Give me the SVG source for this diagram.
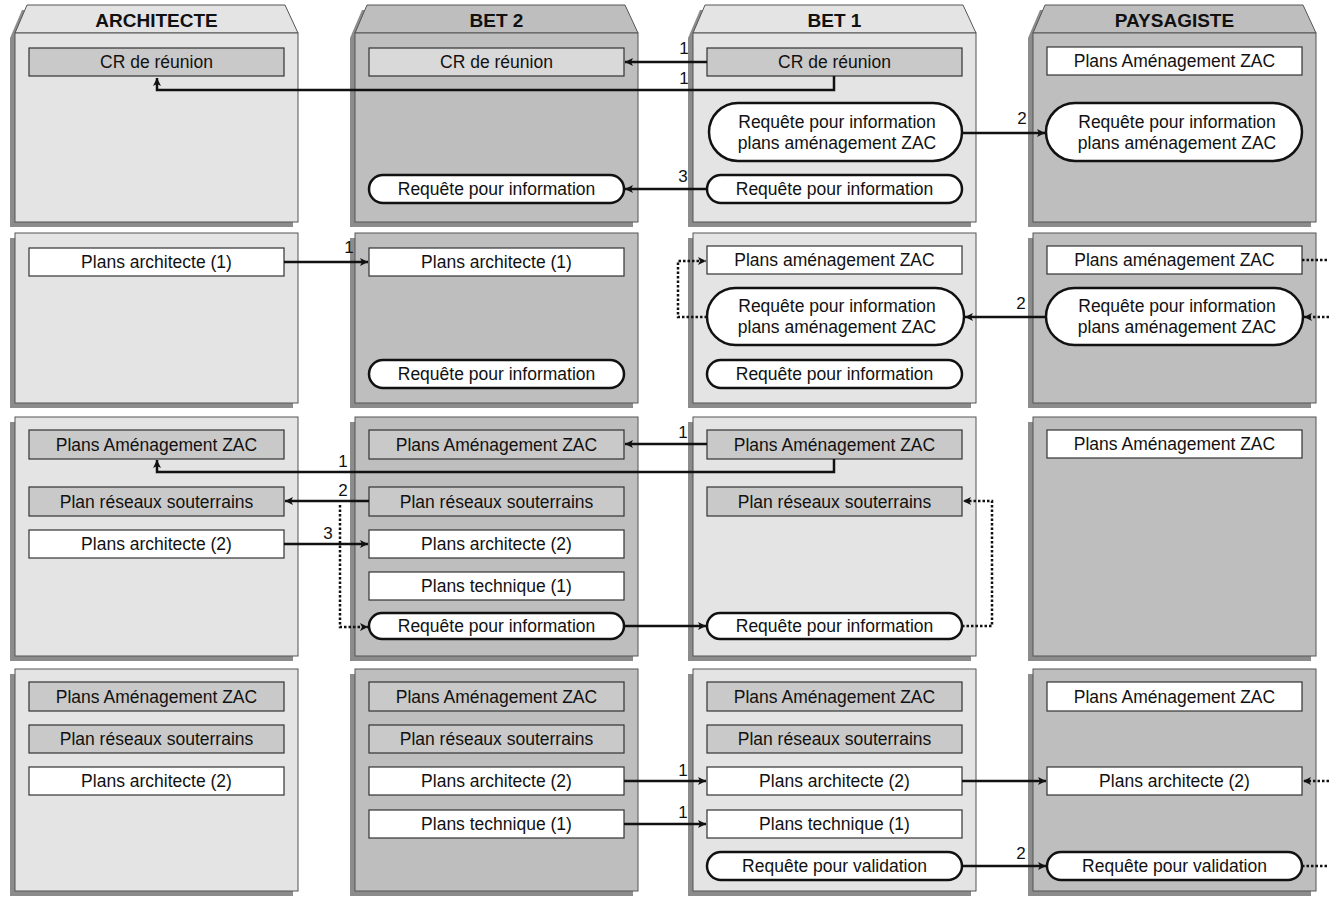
<svg xmlns="http://www.w3.org/2000/svg" width="1329" height="898" viewBox="0 0 1329 898">
<defs>
<style>
.bg{fill:#ffffff}
.sh{fill:#8c8c8c}
.pl{fill:#e4e4e4;stroke:#555;stroke-width:1}
.pd{fill:#bebebe;stroke:#555;stroke-width:1}
.bw{fill:#ffffff;stroke:#333;stroke-width:1.2}
.bg2{fill:#c9c9c9;stroke:#333;stroke-width:1.2}
.bl{fill:#d9d9d9;stroke:#333;stroke-width:1.2}
.st{fill:#ffffff;stroke:#111;stroke-width:2.5}
.t{font-family:"Liberation Sans",Arial,sans-serif;font-size:17.5px;fill:#111;text-anchor:middle}
.h{font-family:"Liberation Sans",Arial,sans-serif;font-size:19px;font-weight:bold;fill:#111;text-anchor:middle}
.n{font-family:"Liberation Sans",Arial,sans-serif;font-size:17px;fill:#111;text-anchor:middle}
.c{fill:none;stroke:#111;stroke-width:2.5}
.d{fill:none;stroke:#111;stroke-width:2.5;stroke-dasharray:2.5 2}
</style>
<marker id="a" viewBox="0 0 10 10" refX="10" refY="5" markerWidth="9" markerHeight="8" markerUnits="userSpaceOnUse" orient="auto">
<path d="M0,0 L10,5 L0,10 L2.5,5 z" fill="#111"/>
</marker>
</defs>
<rect class="bg" x="0" y="0" width="1329" height="898"/>

<!-- Row 1 -->
<g id="col-architecte">
<polygon class="sh" points="22,10 280,10 293,38 10,38"/>
<polygon class="pl" points="27,5 285,5 298,33 15,33"/>
<text class="h" x="156.5" y="27">ARCHITECTE</text>
<rect class="sh" x="10" y="38" width="283" height="189"/>
<rect class="pl" x="15" y="33" width="283" height="189"/>
<rect class="bg2" x="29" y="48" width="255" height="28"/>
<text class="t" x="156.5" y="68">CR de réunion</text>
</g>
<g id="col-bet2">
<polygon class="sh" points="362,10 620,10 633,38 350,38"/>
<polygon class="pd" points="367,5 625,5 638,33 355,33"/>
<text class="h" x="496.5" y="27">BET 2</text>
<rect class="sh" x="350" y="38" width="283" height="189"/>
<rect class="pd" x="355" y="33" width="283" height="189"/>
<rect class="bl" x="369" y="48" width="255" height="28"/>
<text class="t" x="496.5" y="68">CR de réunion</text>
<rect class="st" x="369" y="175" width="255" height="28" rx="14"/>
<text class="t" x="496.5" y="195">Requête pour information</text>
</g>
<g id="col-bet1">
<polygon class="sh" points="700,10 958,10 971,38 688,38"/>
<polygon class="pl" points="705,5 963,5 976,33 693,33"/>
<text class="h" x="834.5" y="27">BET 1</text>
<rect class="sh" x="688" y="38" width="283" height="189"/>
<rect class="pl" x="693" y="33" width="283" height="189"/>
<rect class="bg2" x="707" y="48" width="255" height="28"/>
<text class="t" x="834.5" y="68">CR de réunion</text>
<rect class="st" x="709" y="103" width="253" height="58" rx="29"/>
<text class="t" x="837" y="128">Requête pour information</text>
<text class="t" x="837" y="149">plans aménagement ZAC</text>
<rect class="st" x="707" y="175" width="255" height="28" rx="14"/>
<text class="t" x="834.5" y="195">Requête pour information</text>
</g>
<g id="col-paysagiste">
<polygon class="sh" points="1040,10 1298,10 1311,38 1028,38"/>
<polygon class="pd" points="1045,5 1303,5 1316,33 1033,33"/>
<text class="h" x="1174.5" y="27">PAYSAGISTE</text>
<rect class="sh" x="1028" y="38" width="283" height="189"/>
<rect class="pd" x="1033" y="33" width="283" height="189"/>
<rect class="bw" x="1047" y="47" width="255" height="28"/>
<text class="t" x="1174.5" y="67">Plans Aménagement ZAC</text>
<rect class="st" x="1046" y="103" width="256" height="58" rx="29"/>
<text class="t" x="1177" y="128">Requête pour information</text>
<text class="t" x="1177" y="149">plans aménagement ZAC</text>
</g>

<!-- Row 2 -->
<g id="r2-architecte">
<rect class="sh" x="10" y="238" width="283" height="170"/>
<rect class="pl" x="15" y="233" width="283" height="170"/>
<rect class="bw" x="29" y="248" width="255" height="28"/>
<text class="t" x="156.5" y="268">Plans architecte (1)</text>
</g>
<g id="r2-bet2">
<rect class="sh" x="350" y="238" width="283" height="170"/>
<rect class="pd" x="355" y="233" width="283" height="170"/>
<rect class="bw" x="369" y="248" width="255" height="28"/>
<text class="t" x="496.5" y="268">Plans architecte (1)</text>
<rect class="st" x="369" y="360" width="255" height="28" rx="14"/>
<text class="t" x="496.5" y="380">Requête pour information</text>
</g>
<g id="r2-bet1">
<rect class="sh" x="688" y="238" width="283" height="170"/>
<rect class="pl" x="693" y="233" width="283" height="170"/>
<rect class="bw" x="707" y="246" width="255" height="28"/>
<text class="t" x="834.5" y="266">Plans aménagement ZAC</text>
<rect class="st" x="707" y="288" width="257" height="57" rx="28.5"/>
<text class="t" x="837" y="312">Requête pour information</text>
<text class="t" x="837" y="333">plans aménagement ZAC</text>
<rect class="st" x="707" y="360" width="255" height="28" rx="14"/>
<text class="t" x="834.5" y="380">Requête pour information</text>
</g>
<g id="r2-paysagiste">
<rect class="sh" x="1028" y="238" width="283" height="170"/>
<rect class="pd" x="1033" y="233" width="283" height="170"/>
<rect class="bw" x="1047" y="246" width="255" height="28"/>
<text class="t" x="1174.5" y="266">Plans aménagement ZAC</text>
<rect class="st" x="1046" y="288" width="257" height="57" rx="28.5"/>
<text class="t" x="1177" y="312">Requête pour information</text>
<text class="t" x="1177" y="333">plans aménagement ZAC</text>
</g>

<!-- Row 3 -->
<g id="r3-architecte">
<rect class="sh" x="10" y="422" width="283" height="239"/>
<rect class="pl" x="15" y="417" width="283" height="239"/>
<rect class="bg2" x="29" y="430" width="255" height="29"/>
<text class="t" x="156.5" y="451">Plans Aménagement ZAC</text>
<rect class="bg2" x="29" y="487" width="255" height="29"/>
<text class="t" x="156.5" y="508">Plan réseaux souterrains</text>
<rect class="bw" x="29" y="530" width="255" height="28"/>
<text class="t" x="156.5" y="550">Plans architecte (2)</text>
</g>
<g id="r3-bet2">
<rect class="sh" x="350" y="422" width="283" height="239"/>
<rect class="pd" x="355" y="417" width="283" height="239"/>
<rect class="bg2" x="369" y="430" width="255" height="29"/>
<text class="t" x="496.5" y="451">Plans Aménagement ZAC</text>
<rect class="bg2" x="369" y="487" width="255" height="29"/>
<text class="t" x="496.5" y="508">Plan réseaux souterrains</text>
<rect class="bw" x="369" y="530" width="255" height="28"/>
<text class="t" x="496.5" y="550">Plans architecte (2)</text>
<rect class="bw" x="369" y="572" width="255" height="28"/>
<text class="t" x="496.5" y="592">Plans technique (1)</text>
<rect class="st" x="369" y="613" width="255" height="26" rx="13"/>
<text class="t" x="496.5" y="632">Requête pour information</text>
</g>
<g id="r3-bet1">
<rect class="sh" x="688" y="422" width="283" height="239"/>
<rect class="pl" x="693" y="417" width="283" height="239"/>
<rect class="bg2" x="707" y="430" width="255" height="29"/>
<text class="t" x="834.5" y="451">Plans Aménagement ZAC</text>
<rect class="bg2" x="707" y="487" width="255" height="29"/>
<text class="t" x="834.5" y="508">Plan réseaux souterrains</text>
<rect class="st" x="707" y="613" width="255" height="26" rx="13"/>
<text class="t" x="834.5" y="632">Requête pour information</text>
</g>
<g id="r3-paysagiste">
<rect class="sh" x="1028" y="422" width="283" height="239"/>
<rect class="pd" x="1033" y="417" width="283" height="239"/>
<rect class="bw" x="1047" y="430" width="255" height="28"/>
<text class="t" x="1174.5" y="450">Plans Aménagement ZAC</text>
</g>

<!-- Row 4 -->
<g id="r4-architecte">
<rect class="sh" x="10" y="674" width="283" height="222"/>
<rect class="pl" x="15" y="669" width="283" height="222"/>
<rect class="bg2" x="29" y="682" width="255" height="29"/>
<text class="t" x="156.5" y="703">Plans Aménagement ZAC</text>
<rect class="bg2" x="29" y="725" width="255" height="28"/>
<text class="t" x="156.5" y="745">Plan réseaux souterrains</text>
<rect class="bw" x="29" y="767" width="255" height="28"/>
<text class="t" x="156.5" y="787">Plans architecte (2)</text>
</g>
<g id="r4-bet2">
<rect class="sh" x="350" y="674" width="283" height="222"/>
<rect class="pd" x="355" y="669" width="283" height="222"/>
<rect class="bg2" x="369" y="682" width="255" height="29"/>
<text class="t" x="496.5" y="703">Plans Aménagement ZAC</text>
<rect class="bg2" x="369" y="725" width="255" height="28"/>
<text class="t" x="496.5" y="745">Plan réseaux souterrains</text>
<rect class="bw" x="369" y="767" width="255" height="28"/>
<text class="t" x="496.5" y="787">Plans architecte (2)</text>
<rect class="bw" x="369" y="810" width="255" height="28"/>
<text class="t" x="496.5" y="830">Plans technique (1)</text>
</g>
<g id="r4-bet1">
<rect class="sh" x="688" y="674" width="283" height="222"/>
<rect class="pl" x="693" y="669" width="283" height="222"/>
<rect class="bg2" x="707" y="682" width="255" height="29"/>
<text class="t" x="834.5" y="703">Plans Aménagement ZAC</text>
<rect class="bg2" x="707" y="725" width="255" height="28"/>
<text class="t" x="834.5" y="745">Plan réseaux souterrains</text>
<rect class="bw" x="707" y="767" width="255" height="28"/>
<text class="t" x="834.5" y="787">Plans architecte (2)</text>
<rect class="bw" x="707" y="810" width="255" height="28"/>
<text class="t" x="834.5" y="830">Plans technique (1)</text>
<rect class="st" x="707" y="852" width="255" height="28" rx="14"/>
<text class="t" x="834.5" y="872">Requête pour validation</text>
</g>
<g id="r4-paysagiste">
<rect class="sh" x="1028" y="674" width="283" height="222"/>
<rect class="pd" x="1033" y="669" width="283" height="222"/>
<rect class="bw" x="1047" y="682" width="255" height="29"/>
<text class="t" x="1174.5" y="703">Plans Aménagement ZAC</text>
<rect class="bw" x="1047" y="767" width="255" height="28"/>
<text class="t" x="1174.5" y="787">Plans architecte (2)</text>
<rect class="st" x="1047" y="852" width="255" height="28" rx="14"/>
<text class="t" x="1174.5" y="872">Requête pour validation</text>
</g>

<!-- Connectors -->
<g id="connectors">
<path class="c" d="M707,62 H625" marker-end="url(#a)"/>
<text class="n" x="684" y="54">1</text>
<path class="c" d="M834,76 V90 H157 V78" marker-end="url(#a)"/>
<text class="n" x="684" y="84">1</text>
<path class="c" d="M962,133 H1045" marker-end="url(#a)"/>
<text class="n" x="1022" y="124">2</text>
<path class="c" d="M707,189 H625" marker-end="url(#a)"/>
<text class="n" x="683" y="182">3</text>

<path class="c" d="M284,262 H368" marker-end="url(#a)"/>
<text class="n" x="349" y="253">1</text>
<path class="c" d="M1046,317 H965" marker-end="url(#a)"/>
<text class="n" x="1021" y="309">2</text>
<path class="d" d="M707,317 H678 V261 H706" marker-end="url(#a)"/>
<path class="d" d="M1302,260 H1329"/>
<path class="d" d="M1329,317 H1304" marker-end="url(#a)"/>

<path class="c" d="M707,444 H625" marker-end="url(#a)"/>
<text class="n" x="683" y="438">1</text>
<path class="c" d="M834,459 V472 H157 V460" marker-end="url(#a)"/>
<text class="n" x="343" y="467">1</text>
<path class="c" d="M369,501 H285" marker-end="url(#a)"/>
<text class="n" x="343" y="496">2</text>
<path class="c" d="M284,544 H368" marker-end="url(#a)"/>
<text class="n" x="328" y="539">3</text>
<path class="d" d="M340,505 V627 H368" marker-end="url(#a)"/>
<path class="c" d="M624,626 H706" marker-end="url(#a)"/>
<path class="d" d="M962,626 H992 V501 H963" marker-end="url(#a)"/>

<path class="c" d="M624,781 H706" marker-end="url(#a)"/>
<text class="n" x="683" y="776">1</text>
<path class="c" d="M624,824 H706" marker-end="url(#a)"/>
<text class="n" x="683" y="818">1</text>
<path class="c" d="M962,781 H1046" marker-end="url(#a)"/>
<path class="c" d="M962,866 H1046" marker-end="url(#a)"/>
<text class="n" x="1021" y="859">2</text>
<path class="d" d="M1329,781 H1303" marker-end="url(#a)"/>
<path class="d" d="M1302,866 H1329"/>
</g>
</svg>
